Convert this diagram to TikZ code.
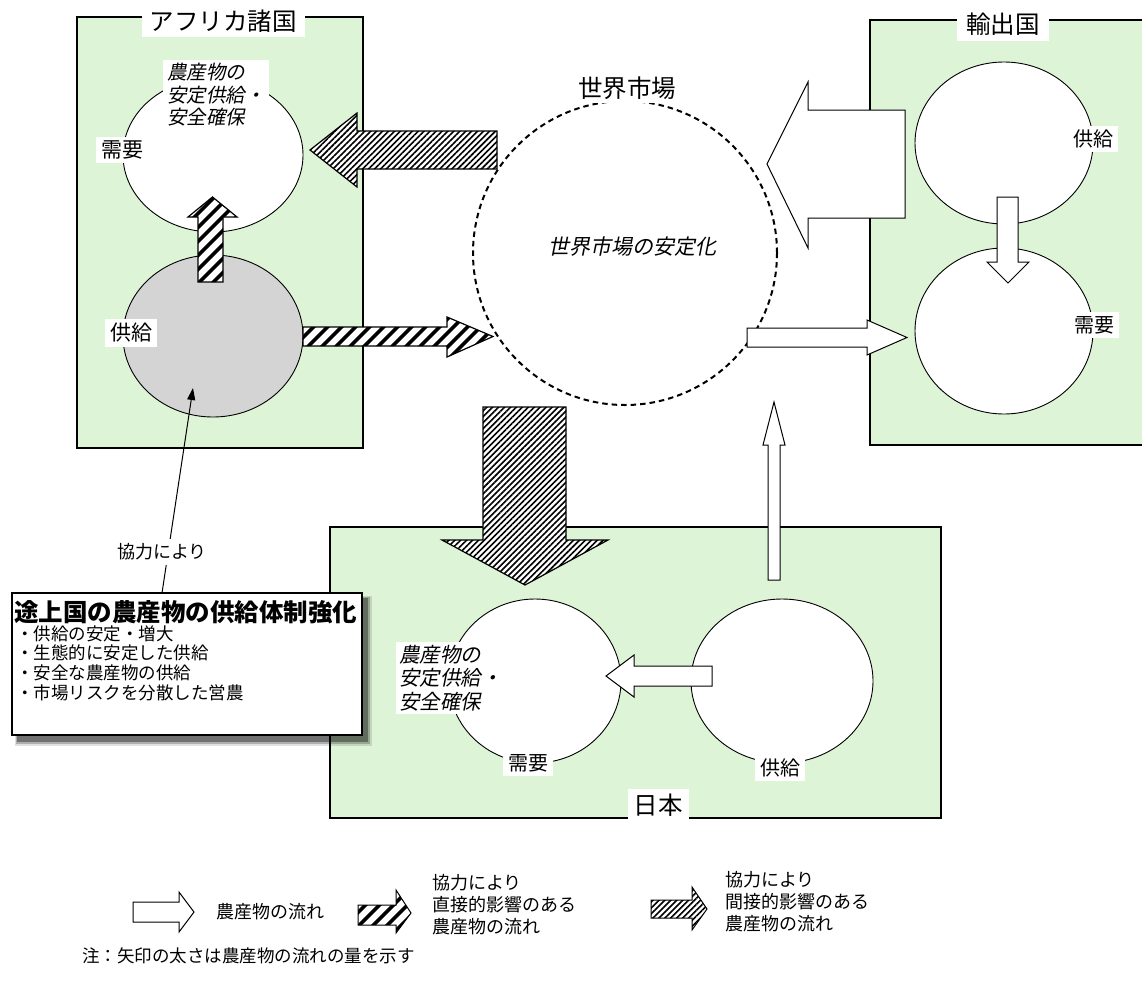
\documentclass[tikz,border=0pt]{standalone}
\usepackage{fontspec}
\setmainfont{Noto Sans CJK JP}
\newfontfamily\jpit[FakeSlant=0.2]{Noto Sans CJK JP}
\usetikzlibrary{shapes.geometric,patterns.meta,arrows.meta}
\definecolor{boxgreen}{RGB}{222,244,214}
\definecolor{supgray}{RGB}{212,212,212}
\begin{document}
\begin{tikzpicture}[x=1pt,y=-1pt,
  region/.style={fill=boxgreen},
  regionline/.style={draw=black,line width=1.1pt},
  circ/.style={ellipse,draw=black,line width=0.9pt,fill=white,inner sep=0pt},
  lbl/.style={fill=white,inner xsep=5pt,inner ysep=4pt},
  whitearrow/.style={draw=black,line width=1pt,fill=white,line join=miter},
  directarrow/.style={draw=black,line width=1.2pt,preaction={fill=white},
      pattern={Lines[angle=45,distance=10.5pt,line width=4pt]}},
  indirectarrow/.style={draw=black,line width=1.2pt,preaction={fill=white},
      pattern={Lines[angle=45,distance=4.2pt,line width=1.6pt]}},
  fa/.style={font=\fontsize{24.5}{28}\selectfont},
  fb/.style={font=\fontsize{21}{25}\selectfont},
  fc/.style={font=\fontsize{20}{23.5}\selectfont},
  fd/.style={font=\fontsize{18}{22}\selectfont},
]
\useasboundingbox (0,0) rectangle (1142,983);
\fill[white] (0,0) rectangle (1142,983);

% ---------- regions ----------
\fill[region] (77,17) rectangle (363,448);
\draw[regionline] (77,17) rectangle (363,448);
\fill[region] (870,20) rectangle (1142,445);
\draw[regionline] (1142,20) -- (870,20) -- (870,445) -- (1142,445);
\fill[region] (330,527) rectangle (941,818);
\draw[regionline] (330,527) rectangle (941,818);

% ---------- circles ----------
\node[circ,minimum width=180pt,minimum height=154pt] (afd) at (213,155) {};
\node[circ,minimum width=180pt,minimum height=162pt,fill=supgray] (afs) at (213,336) {};
\node[circ,minimum width=178pt,minimum height=162pt] (exs) at (1004,143) {};
\node[circ,minimum width=178pt,minimum height=166pt] (exd) at (1004,331) {};
\node[circ,minimum width=172pt,minimum height=164pt] (jpd) at (535,681) {};
\node[circ,minimum width=182pt,minimum height=164pt] (jps) at (782,681) {};
\node[circle,draw=black,line width=2pt,dash pattern=on 5.5pt off 4pt,
      minimum size=304pt,inner sep=0pt] (wm) at (625,253) {};

% ---------- block arrows ----------
\path[directarrow] (198,282) -- (198,217) -- (188,217) -- (212.5,197) -- (237,217)
   -- (223,217) -- (223,282) -- cycle;
\path[directarrow] (303,327) -- (447,327) -- (447,317) -- (493,336.5) -- (447,357)
   -- (447,346) -- (303,346) -- cycle;
\path[indirectarrow] (497,131) -- (357,131) -- (357,113) -- (310,150) -- (357,187)
   -- (357,169) -- (497,169) -- cycle;
\path[whitearrow] (905,110) -- (808,110) -- (808,82) -- (767,164) -- (808,248)
   -- (808,218) -- (905,218) -- cycle;
\path[whitearrow] (747,328) -- (867,328) -- (867,320) -- (907,337.5) -- (867,355)
   -- (867,347) -- (747,347) -- cycle;
\path[whitearrow] (997,197) -- (1018,197) -- (1018,262) -- (1029,262) -- (1008,283)
   -- (987,262) -- (997,262) -- cycle;
\path[whitearrow] (768,580) -- (768,445) -- (763,445) -- (774,402) -- (785,445)
   -- (780,445) -- (780,580) -- cycle;
\path[indirectarrow] (483,407) -- (566,407) -- (566,540) -- (608,540) -- (525,585)
   -- (442,540) -- (483,540) -- cycle;
\path[whitearrow] (712,666) -- (634,666) -- (634,655) -- (606,676) -- (634,697)
   -- (634,686) -- (712,686) -- cycle;

% ---------- titles and labels ----------
\node[lbl,fa,inner xsep=8pt,inner ysep=5pt] (tafr) at (223,21) {アフリカ諸国};
\node[lbl,fa,inner xsep=9pt,inner ysep=6pt] (texp) at (1003,24) {輸出国};
\node[lbl,fa,inner xsep=6pt,inner ysep=5pt] (tjp) at (658,805) {日本};
\node[lbl,fa,inner sep=4pt] (twm) at (627,88) {世界市場};
\node[fb] (twmc) at (632,247) {\jpit 世界市場の安定化};

\node[lbl,fb] (afdl) at (122,150) {需要};
\node[lbl,fb] (afsl) at (131,333) {供給};
\node[lbl,anchor=west,align=left,inner sep=4pt,font=\fontsize{19.5}{22.5}\selectfont\jpit]
   (afgoal) at (163,95) {農産物の\\安定供給・\\安全確保};
\node[lbl,fc] (exsl) at (1093,139) {供給};
\node[lbl,fc] (exdl) at (1094,325) {需要};
\node[lbl,fc] (jpdl) at (528,763) {需要};
\node[lbl,fc] (jpsl) at (780,768) {供給};
\node[lbl,anchor=west,align=left,inner sep=3pt,font=\fontsize{20.5}{23.5}\selectfont\jpit]
   (jpgoal) at (396,678) {農産物の\\安定供給・\\安全確保};

% ---------- note box ----------
\fill[black,opacity=0.12] (15,596) rectangle (372,746);
\fill[black,opacity=0.22] (16,597) rectangle (370,744);
\fill[black,opacity=0.35] (17,598) rectangle (368,742);
\node[draw=black,line width=1.2pt,fill=white,minimum width=350pt,minimum height=142pt,
      inner sep=0pt] (nb) at (187,664) {};
\node[anchor=west,inner sep=0pt,font=\fontsize{24.5}{28}\selectfont\bfseries]
   (nbt) at (14,612) {途上国の農産物の供給体制強化};
\node[anchor=west,align=left,inner sep=0pt,font=\fontsize{17.5}{19.7}\selectfont]
   (nbl) at (16,663) {・供給の安定・増大\\・生態的に安定した供給\\・安全な農産物の供給\\・市場リスクを分散した営農};

\coordinate (pstart) at (162,593);
\coordinate (ptip) at (193,388);
\draw[line width=1pt,-{Triangle[length=12pt,width=8pt]}] (pstart) -- (ptip);
\node[fill=white,fd,inner xsep=3pt,inner ysep=5pt] (coop) at (162,552) {協力により};

% ---------- legend ----------
\path[whitearrow] (133,902) -- (179,902) -- (179,892) -- (194,912) -- (179,932)
   -- (179,922) -- (133,922) -- cycle;
\node[fd,anchor=west] (lg1) at (213,912) {農産物の流れ};
\path[directarrow,line width=1pt] (358,905) -- (396,905) -- (396,890) -- (411,913) -- (396,933)
   -- (396,925) -- (358,925) -- cycle;
\node[fd,anchor=west,align=left,inner sep=0pt] (lg2) at (432,905) {協力により\\直接的影響のある\\農産物の流れ};
\path[indirectarrow,line width=1pt] (651,900) -- (692,900) -- (692,887) -- (707,909) -- (692,930)
   -- (692,918) -- (651,918) -- cycle;
\node[fd,anchor=west,align=left,inner sep=0pt] (lg3) at (725,902) {協力により\\間接的影響のある\\農産物の流れ};
\node[anchor=west,inner sep=0pt,font=\fontsize{17.5}{20}\selectfont] (note) at (82,956)
   {注：矢印の太さは農産物の流れの量を示す};
\end{tikzpicture}
\end{document}
